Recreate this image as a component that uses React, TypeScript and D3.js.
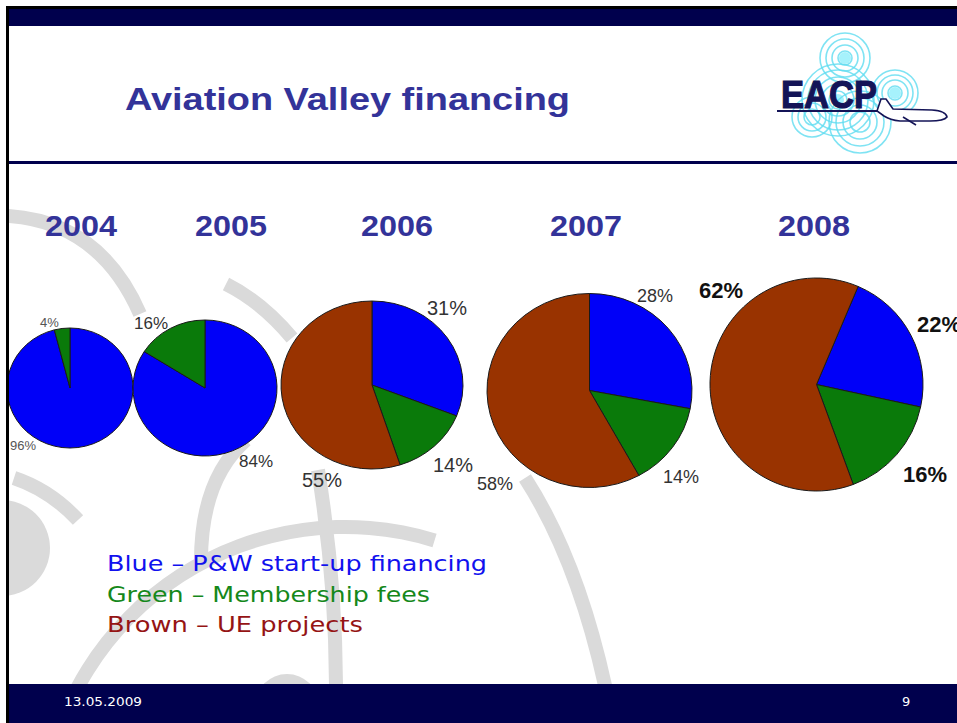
import React from "react";
import * as d3 from "d3";

// ---------- data ----------
const years = ["2004", "2005", "2006", "2007", "2008"];
const seriesKeys = ["blue", "green", "brown"];
const blueValues = [96, 84, 31, 28, 22];
const greenValues = [4, 16, 14, 14, 16];
const brownValues = [0, 0, 55, 58, 62];
const legendLines = [
  "Blue \u2013 P&W start-up financing",
  "Green \u2013 Membership fees",
  "Brown \u2013 UE projects",
];
const titleText = "Aviation Valley financing";
const footerDate = "13.05.2009";
const footerPage = "9";

// ---------- style / layout ----------
const W = 957;
const H = 723;
const NAVY = "#00004d";
const TITLE_COLOR = "#333399";
const sliceColors = ["#0000f8", "#0a7a0a", "#993300"];
const legendColors = ["#1111ee", "#15881a", "#951414"];

const pieLayout = [
  { cx: 70, cy: 388, rx: 63, ry: 60, start: 0 },
  { cx: 205, cy: 388, rx: 72, ry: 68, start: 0 },
  { cx: 372, cy: 385, rx: 91, ry: 84, start: 0 },
  { cx: 589.5, cy: 390.5, rx: 102.5, ry: 97, start: 0 },
  { cx: 816.5, cy: 384.5, rx: 106.5, ry: 106.5, start: 23 },
];
const yearX = [45, 195, 361, 550, 778];
// label anchors per pie, in series order blue, green, brown
const labelLayout = [
  { size: 13, weight: "normal", fill: "#555", pos: [[10, 450], [40, 327], null] },
  { size: 17, weight: "normal", fill: "#333", pos: [[239, 467], [134, 329], null] },
  { size: 20, weight: "normal", fill: "#333", pos: [[427, 315], [433, 472], [302, 487]] },
  { size: 18, weight: "normal", fill: "#333", pos: [[637, 302], [663, 483], [477, 490]] },
  { size: 22, weight: "bold", fill: "#111", pos: [[917, 332], [903, 482], [699, 298]] },
];

const R = 100;
const arcGen = d3.arc<d3.PieArcDatum<number>>().innerRadius(0).outerRadius(R);

function Pies() {
  return (
    <g>
      {years.map((yr, i) => {
        const vals = [blueValues[i], greenValues[i], brownValues[i]];
        const L = pieLayout[i];
        const s = (L.start * Math.PI) / 180;
        const pie = d3
          .pie<number>()
          .sort(null)
          .value((d) => d)
          .startAngle(s)
          .endAngle(s + 2 * Math.PI);
        const arcs = pie(vals);
        return (
          <g key={yr} transform={`translate(${L.cx},${L.cy}) scale(${L.rx / R},${L.ry / R})`}>
            {arcs.map((a, j) =>
              a.value > 0 ? (
                <path
                  key={seriesKeys[j]}
                  d={arcGen(a) || ""}
                  fill={sliceColors[j]}
                  stroke="#1a1a1a"
                  strokeWidth={1}
                  vectorEffect="non-scaling-stroke"
                />
              ) : null
            )}
          </g>
        );
      })}
    </g>
  );
}

function PieLabels() {
  return (
    <g fontFamily="'Liberation Sans', Arial, sans-serif">
      {years.map((yr, i) => {
        const vals = [blueValues[i], greenValues[i], brownValues[i]];
        const L = labelLayout[i];
        return vals.map((v, j) => {
          const p = L.pos[j];
          if (!p || v <= 0) return null;
          return (
            <text
              key={yr + j}
              x={p[0]}
              y={p[1]}
              fontSize={L.size}
              fontWeight={L.weight}
              fill={L.fill}
            >
              {`${v}%`}
            </text>
          );
        });
      })}
    </g>
  );
}

function Watermark() {
  const c = "#dadada";
  const sw = 14;
  const bigArc = d3.arc()({
    innerRadius: 296,
    outerRadius: 310,
    startAngle: -1.45,
    endAngle: 0.3,
  } as any);
  return (
    <g>
      <g transform="translate(345,830)">
        <path d={bigArc || ""} fill={c} />
      </g>
      <path d="M 8 216 Q 100 222 140 314" fill="none" stroke={c} strokeWidth={sw} />
      <path d="M 226 284 Q 262 302 292 338" fill="none" stroke={c} strokeWidth={sw} />
      <path d="M 246 440 Q 200 480 201 565" fill="none" stroke={c} strokeWidth={sw} />
      <path d="M 318 470 Q 336 580 336 690" fill="none" stroke={c} strokeWidth={sw} />
      <path d="M 525 478 Q 578 560 606 690" fill="none" stroke={c} strokeWidth={sw} />
      <path d="M 14 478 Q 50 490 78 520" fill="none" stroke={c} strokeWidth={sw} />
      <circle cx={2} cy={548} r={48} fill={c} />
      <circle cx={287} cy={706} r={32} fill={c} />
    </g>
  );
}

function Logo() {
  const ring = "#5fdcf0";
  const spot = "#a6f2fc";
  const groups = [
    { cx: 845, cy: 58, rs: [7, 13, 19, 25], dot: true },
    { cx: 838, cy: 100, rs: [9, 16, 23, 30, 36], dot: true },
    { cx: 895, cy: 93, rs: [7, 13, 18, 23], dot: true },
    { cx: 860, cy: 122, rs: [10, 17, 24, 31], dot: false },
    { cx: 812, cy: 117, rs: [8, 14, 20], dot: false },
  ];
  return (
    <g>
      {groups.map((g, i) =>
        g.dot ? <circle key={"d" + i} cx={g.cx} cy={g.cy} r={6} fill={spot} /> : null
      )}
      {groups.map((g, i) => (
        <g key={i}>
          {g.rs.map((r, k) => (
            <circle key={k} cx={g.cx} cy={g.cy} r={r} fill="none" stroke={ring} strokeWidth={1.6} opacity={0.8} />
          ))}
        </g>
      ))}
      <text
        x={781}
        y={108}
        fontFamily="'Liberation Sans', Arial, sans-serif"
        fontWeight="bold"
        fontSize={39}
        fill="#141457"
        stroke="#141457"
        strokeWidth={1.2}
        textLength={96}
        lengthAdjust="spacingAndGlyphs"
      >
        EACP
      </text>
      <line x1={777} y1={111} x2={882} y2={111} stroke="#141457" strokeWidth={2} />
      <path
        d="M 877 111 L 881 99 L 886 99 L 893 109 L 932 110 Q 946 111 947 117 Q 944 121 930 121 L 900 121 Q 890 120 884 116 Z"
        fill="#ffffff"
        stroke="#141457"
        strokeWidth={1.6}
      />
      <path d="M 903 117 L 916 125" stroke="#141457" strokeWidth={1.6} />
    </g>
  );
}

export default function App() {
  return (
    <svg
      width={W}
      height={H}
      viewBox={`0 0 ${W} ${H}`}
      style={{ position: "absolute", left: 0, top: 0, background: "#fff" }}
    >
      <defs>
        <clipPath id="content">
          <rect x={9} y={164} width={W - 9} height={684 - 164} />
        </clipPath>
      </defs>
      <rect x={0} y={0} width={W} height={H} fill="#fff" />

      <g clipPath="url(#content)">
        <Watermark />
        <Pies />
      </g>

      {/* frame */}
      <rect x={6} y={6} width={W - 6} height={3} fill="#000" />
      <rect x={6} y={9} width={W - 6} height={17} fill={NAVY} />
      <rect x={6} y={6} width={3} height={H - 6} fill="#000" />
      <rect x={9} y={161} width={W - 9} height={3} fill={NAVY} />
      <rect x={9} y={684} width={W - 9} height={H - 684} fill={NAVY} />

      <text
        x={125}
        y={110}
        fontFamily="'Liberation Sans', Arial, sans-serif"
        fontWeight="bold"
        fontSize={32}
        fill={TITLE_COLOR}
        textLength={445}
        lengthAdjust="spacingAndGlyphs"
      >
        {titleText}
      </text>
      <Logo />

      <g fontFamily="'Liberation Sans', Arial, sans-serif" fontWeight="bold" fontSize={30} fill={TITLE_COLOR}>
        {years.map((yr, i) => (
          <text key={yr} x={yearX[i]} y={236} textLength={72} lengthAdjust="spacingAndGlyphs">
            {yr}
          </text>
        ))}
      </g>

      <g clipPath="url(#content)">
        <PieLabels />
      </g>

      <g fontFamily="'DejaVu Sans', Verdana, sans-serif" fontSize={21}>
        {legendLines.map((t, i) => (
          <text
            key={t}
            x={107}
            y={571 + i * 30.5}
            fill={legendColors[i]}
            textLength={[380, 323, 256][i]}
            lengthAdjust="spacingAndGlyphs"
          >
            {t}
          </text>
        ))}
      </g>

      <text x={64} y={706} fontFamily="'DejaVu Sans', Tahoma, sans-serif" fontSize={13} fill="#fff" textLength={78} lengthAdjust="spacingAndGlyphs">
        {footerDate}
      </text>
      <text x={902} y={706} fontFamily="'DejaVu Sans', Tahoma, sans-serif" fontSize={13} fill="#fff">
        {footerPage}
      </text>
    </svg>
  );
}
